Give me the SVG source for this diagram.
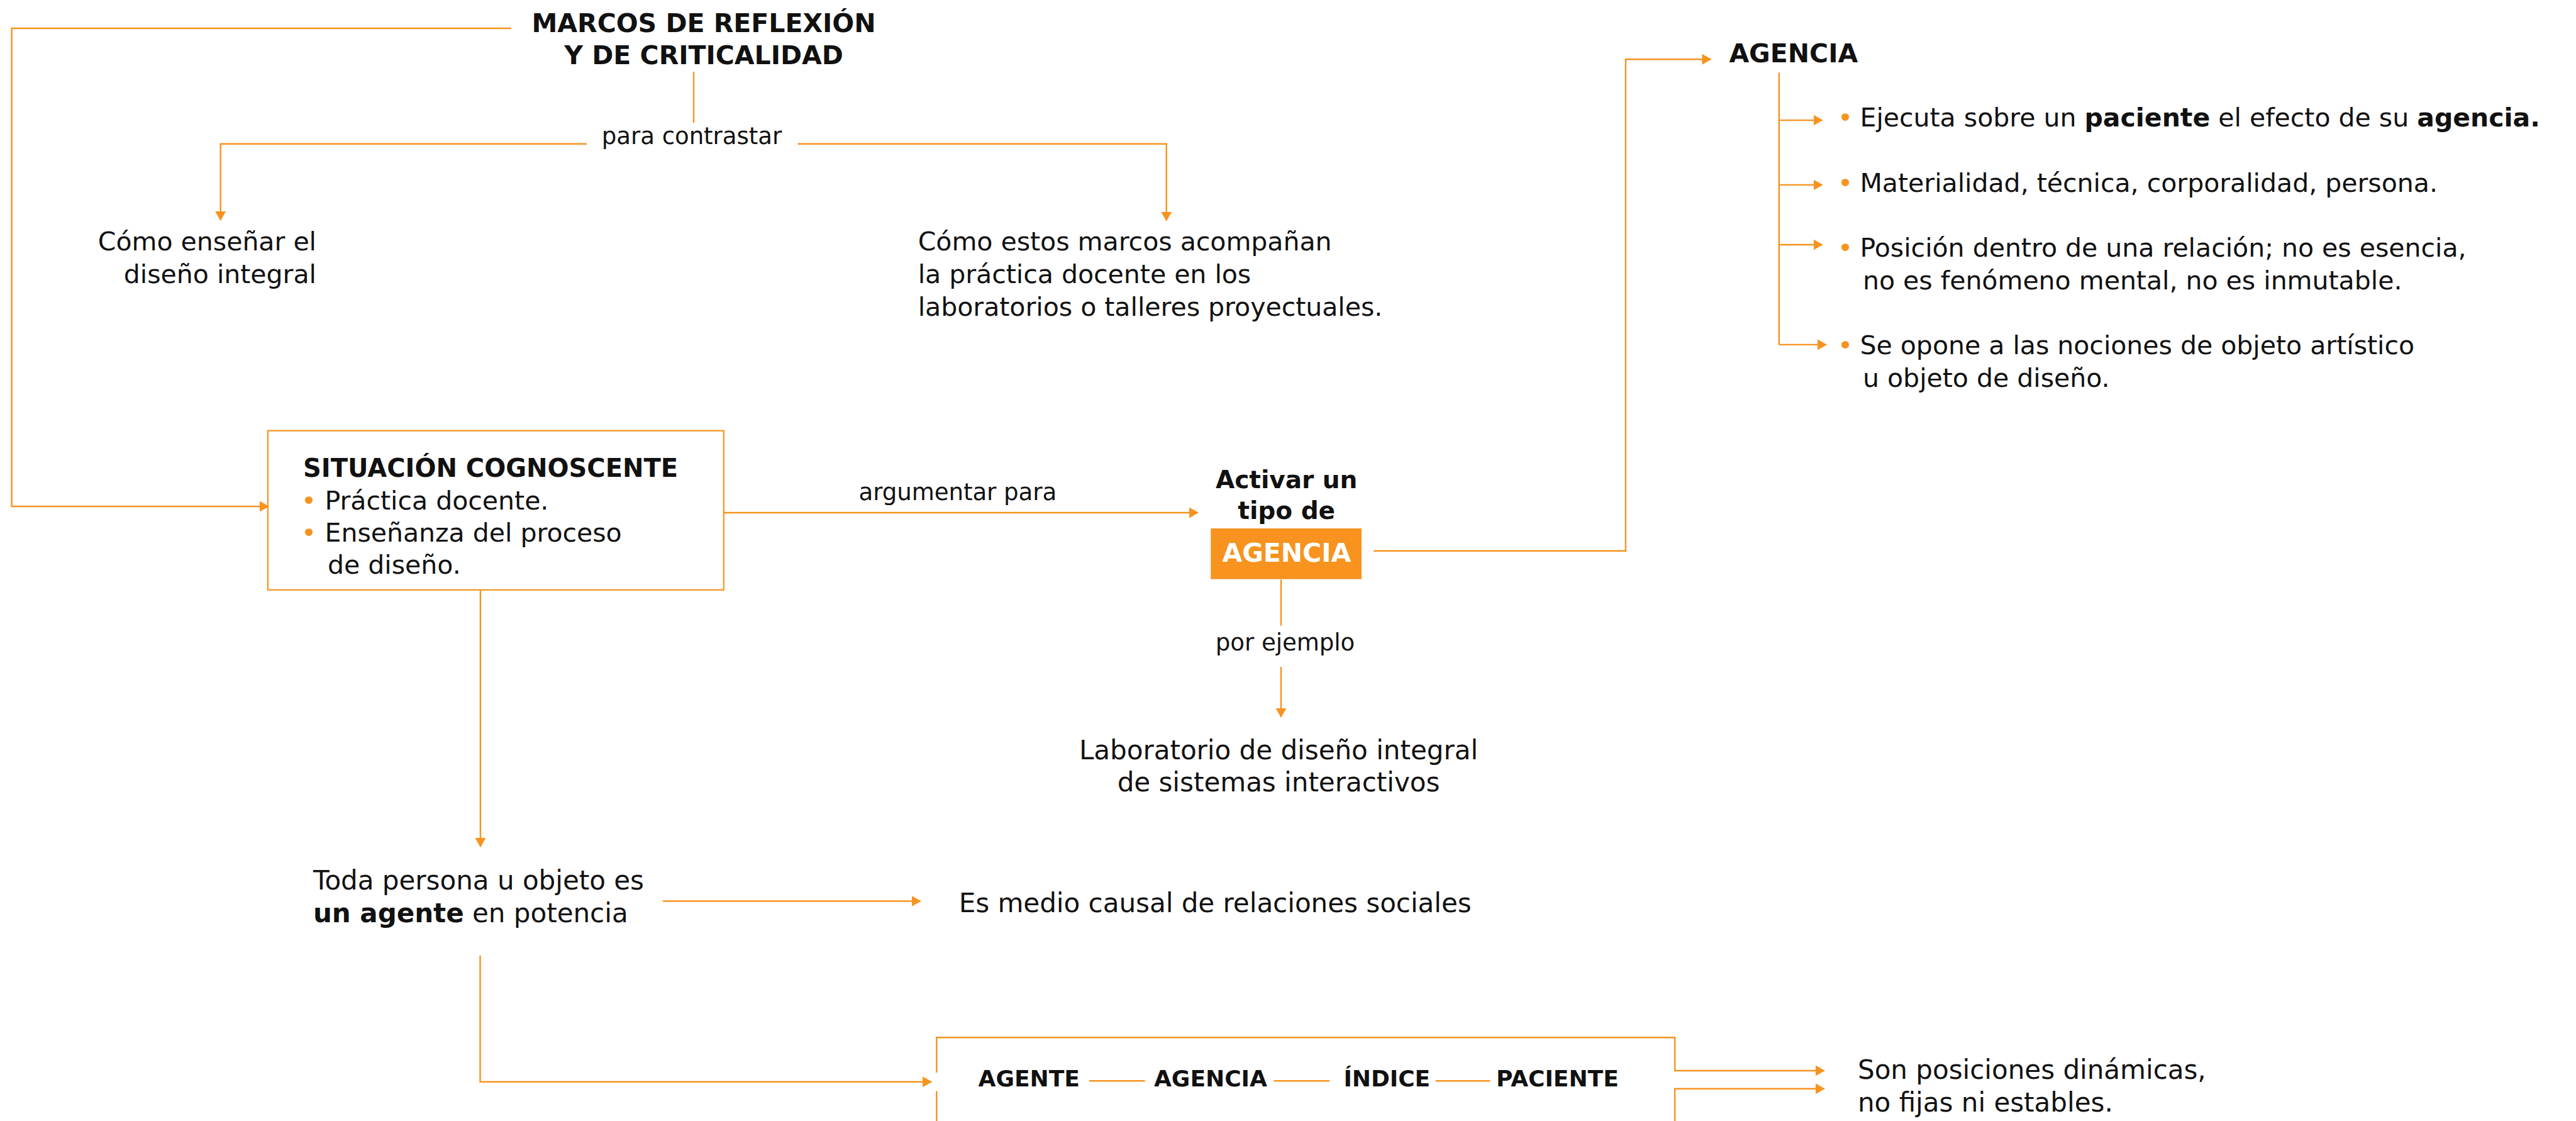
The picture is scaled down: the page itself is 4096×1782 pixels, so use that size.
<svg xmlns="http://www.w3.org/2000/svg" width="4096" height="1782" viewBox="0 0 4096 1782">
  <style>
    text { font-family: "DejaVu Sans", "Liberation Sans", sans-serif; fill: #111; }
    .body { font-size: 41px; }
    .big { font-size: 42px; }
    .lbl { font-size: 37px; }
    .hd { font-size: 41px; font-weight: bold; }
    .hd2 { font-size: 39px; font-weight: bold; }
    .chain { font-size: 36px; font-weight: bold; }
    .b { font-weight: bold; }
    .mid { text-anchor: middle; }
    .end { text-anchor: end; }
    .dot { fill: #F7931E; font-size: 41px; text-anchor: middle; }
    .ln { fill: none; stroke: #F7931E; stroke-width: 2.4; }
    .box { fill: none; stroke: #F7931E; stroke-width: 2.2; }
  </style>
  <defs>
    <marker id="arr" viewBox="0 0 15 17" refX="14" refY="8.5" markerWidth="15" markerHeight="17" markerUnits="userSpaceOnUse" orient="auto">
      <path d="M0,0 L15,8.5 L0,17 z" fill="#F7931E"/>
    </marker>
  </defs>
  <rect width="4096" height="1782" fill="#fff"/>

  <!-- connectors and their labels -->
  <g id="connectors">
    <path class="ln" d="M813,45 H18.6 V805 H427" marker-end="url(#arr)"/>
    <path class="ln" d="M1103,114 V195"/>
    <text class="lbl mid" x="1100" y="229">para contrastar</text>
    <path class="ln" d="M933,228.7 H350.7 V350" marker-end="url(#arr)"/>
    <path class="ln" d="M1268.6,228.7 H1854.7 V350.8" marker-end="url(#arr)"/>
    <text class="lbl mid" x="1522.8" y="794.8">argumentar para</text>
    <path class="ln" d="M1150.8,815 H1904.9" marker-end="url(#arr)"/>
    <path class="ln" d="M2184.2,875.8 H2584.9 V94.3 H2720.4" marker-end="url(#arr)"/>
    <path class="ln" d="M2828.8,115.5 V547.9"/>
    <path class="ln" d="M2828.8,191.1 H2897.6" marker-end="url(#arr)"/>
    <path class="ln" d="M2828.8,293.9 H2897.6" marker-end="url(#arr)"/>
    <path class="ln" d="M2828.8,389 H2897.6" marker-end="url(#arr)"/>
    <path class="ln" d="M2828.8,547.9 H2904" marker-end="url(#arr)"/>
    <path class="ln" d="M2036.9,921.4 V994.7"/>
    <text class="lbl mid" x="2043.5" y="1034.4">por ejemplo</text>
    <path class="ln" d="M2036.9,1060 V1139.8" marker-end="url(#arr)"/>
    <path class="ln" d="M763.9,937.7 V1346" marker-end="url(#arr)"/>
    <path class="ln" d="M1053.7,1432.5 H1463.6" marker-end="url(#arr)"/>
    <path class="ln" d="M763.5,1519 V1719.8 H1481.1" marker-end="url(#arr)"/>
    <!-- open frame around the chain and its two exits -->
    <path class="ln" d="M1489.2,1705 V1649.3 H2663.1 V1702 H2900.7" marker-end="url(#arr)"/>
    <path class="ln" d="M1489.2,1734.5 V1782"/>
    <path class="ln" d="M2663.1,1782 V1730.7 H2900.7" marker-end="url(#arr)"/>
    <path class="ln" d="M1731.9,1718.3 H1820.5 M2025.5,1718.3 H2114.3 M2282.8,1718.3 H2369.5"/>
  </g>

  <g id="marcos">
    <text class="hd mid" x="1119" y="51">MARCOS DE REFLEXIÓN</text>
    <text class="hd mid" x="1119" y="102">Y DE CRITICALIDAD</text>
  </g>

  <g id="como-ensenar">
    <text class="body end" x="503" y="398">Cómo enseñar el</text>
    <text class="body end" x="503" y="450">diseño integral</text>
  </g>

  <g id="como-acompanan">
    <text class="body" x="1459.7" y="398">Cómo estos marcos acompañan</text>
    <text class="body" x="1459.7" y="450">la práctica docente en los</text>
    <text class="body" x="1459.7" y="501.7">laboratorios o talleres proyectuales.</text>
  </g>

  <g id="situacion">
    <rect class="box" x="425.9" y="684.7" width="724.9" height="253"/>
    <text class="hd" x="482" y="757.8" style="font-size:40px">SITUACIÓN COGNOSCENTE</text>
    <text class="dot" x="491" y="809.6">•</text>
    <text class="body" x="516.5" y="809.6">Práctica docente.</text>
    <text class="dot" x="491" y="860.8">•</text>
    <text class="body" x="516.5" y="860.8">Enseñanza del proceso</text>
    <text class="body" x="521" y="912">de diseño.</text>
  </g>

  <g id="activar">
    <text class="hd2 mid" x="2045.7" y="775.9">Activar un</text>
    <text class="hd2 mid" x="2045.7" y="824.7">tipo de</text>
    <rect x="1925.2" y="840" width="239.7" height="80.6" fill="#F7931E"/>
    <text class="hd mid" x="2045.8" y="892.8" style="fill:#fff">AGENCIA</text>
  </g>

  <g id="laboratorio">
    <text class="big mid" x="2033" y="1206.8">Laboratorio de diseño integral</text>
    <text class="big mid" x="2033" y="1257.6">de sistemas interactivos</text>
  </g>

  <g id="agencia">
    <text class="hd" x="2749.4" y="98.5">AGENCIA</text>
    <text class="dot" x="2934" y="200.5">•</text>
    <text class="body" x="2957.5" y="200.5">Ejecuta sobre un <tspan class="b">paciente</tspan> el efecto de su <tspan class="b">agencia.</tspan></text>
    <text class="dot" x="2934" y="305">•</text>
    <text class="body" x="2957.5" y="305">Materialidad, técnica, corporalidad, persona.</text>
    <text class="dot" x="2934" y="407.8">•</text>
    <text class="body" x="2957.5" y="407.8">Posición dentro de una relación; no es esencia,</text>
    <text class="body" x="2962" y="459.6">no es fenómeno mental, no es inmutable.</text>
    <text class="dot" x="2934" y="562.8">•</text>
    <text class="body" x="2957.5" y="562.8">Se opone a las nociones de objeto artístico</text>
    <text class="body" x="2962" y="614.6">u objeto de diseño.</text>
  </g>

  <g id="toda-persona">
    <text class="big" x="497.9" y="1414.3">Toda persona u objeto es</text>
    <text class="big" x="497.9" y="1465.8"><tspan class="b">un agente</tspan> en potencia</text>
  </g>

  <g id="medio-causal">
    <text class="big" x="1524.7" y="1449.8">Es medio causal de relaciones sociales</text>
  </g>

  <g id="cadena">
    <text class="chain" x="1555.6" y="1726.6">AGENTE</text>
    <text class="chain" x="1835" y="1726.6">AGENCIA</text>
    <text class="chain" x="2136.4" y="1726.6">ÍNDICE</text>
    <text class="chain" x="2379.1" y="1726.6">PACIENTE</text>
  </g>

  <g id="posiciones">
    <text class="big" x="2954" y="1715.3">Son posiciones dinámicas,</text>
    <text class="big" x="2954" y="1766.5">no fijas ni estables.</text>
  </g>
</svg>
